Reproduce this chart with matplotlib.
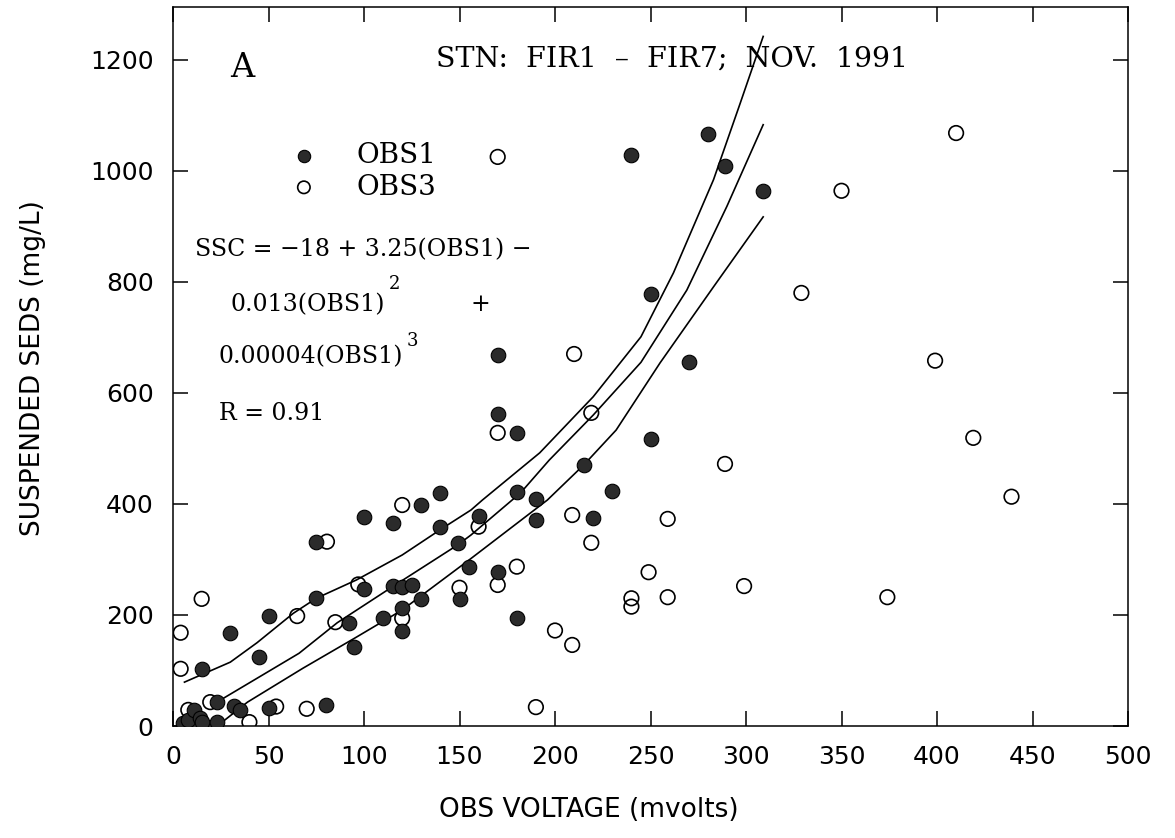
import matplotlib
matplotlib.use("Agg")
import matplotlib.pyplot as plt

# OBS1 readings (filled circles): OBS voltage (mvolts), SSC (mg/L)
obs1_x = [5, 8, 11, 14, 15, 23, 23, 32, 35, 50, 80,
          15, 30, 45, 50, 75, 75, 92, 95, 100, 100, 110, 115, 115, 120, 125,
          120, 120, 130, 130, 140, 140, 149, 150, 155, 160, 170, 170, 170,
          180, 180, 180, 190, 190, 215, 220, 230, 240, 250, 250, 270, 280,
          289, 309]
obs1_y = [5, 10, 28, 15, 8, 7, 43, 36, 29, 33, 38,
          103, 167, 124, 198, 230, 332, 186, 142, 376, 246, 195, 366, 252, 250, 254,
          212, 171, 398, 229, 420, 359, 329, 229, 287, 378, 668, 562, 277,
          528, 422, 194, 408, 371, 470, 375, 423, 1029, 778, 517, 656, 1066,
          1009, 964]

# OBS3 readings (open circles)
obs3_x = [4, 4, 8, 15, 19.5, 40, 54, 65, 70, 80.6, 85, 97, 120, 120, 150,
          160, 170, 170, 170, 180, 190, 200, 209, 210, 209, 219, 219, 240,
          240, 249, 259, 259, 289, 299, 329, 350, 374, 399, 410, 419, 439]
obs3_y = [168, 103, 29, 229, 43, 7, 35, 198, 31, 332, 187, 255, 398, 194, 249,
          359, 1025, 528, 254, 287, 34, 172, 146, 670, 380, 564, 330, 230,
          215, 277, 373, 232, 472, 252, 780, 964, 232, 658, 1068, 519, 413]

# fitted curve and its bands
upper_x = [6, 30, 44, 63, 75, 96, 120, 141, 156, 162, 192, 220, 245, 262, 283, 297, 309]
upper_y = [79, 115, 150, 203, 230, 263, 308, 356, 389, 407, 492, 593, 701, 816, 984, 1122, 1242]
mid_x = [20, 23, 45, 66, 86, 115, 149, 156, 182, 197, 220, 245, 269, 290, 309]
mid_y = [38, 43, 88, 131, 186, 251, 326, 344, 420, 479, 560, 655, 785, 936, 1083]
lower_x = [25, 39, 68, 96, 120, 155, 196, 215, 232, 255, 283, 309]
lower_y = [5, 43, 104, 160, 209, 299, 407, 470, 533, 654, 791, 917]

x_ticks = [0, 50, 100, 150, 200, 250, 300, 350, 400, 450, 500]
y_ticks = [0, 200, 400, 600, 800, 1000, 1200]

serif = 'DejaVu Serif'

fig = plt.figure(figsize=(11.75, 8.38), dpi=100)
ax = fig.add_axes([173 / 1175, 1 - 726 / 838, 955 / 1175, 719 / 838])

ax.plot(upper_x, upper_y, color='black', lw=1.2)
ax.plot(mid_x, mid_y, color='black', lw=1.2)
ax.plot(lower_x, lower_y, color='black', lw=1.2)

h3 = ax.scatter(obs3_x, obs3_y, s=110, facecolors='none', edgecolors='black',
                linewidths=1.2, label='OBS3', zorder=3)
h1 = ax.scatter(obs1_x, obs1_y, s=110, facecolors='#2b2b2b', edgecolors='black',
                linewidths=0.8, label='OBS1', zorder=4)

ax.set_xlim(0, 500)
ax.set_ylim(0, 1295)
ax.set_xticks(x_ticks)
ax.set_yticks(y_ticks)
ax.tick_params(direction='in', length=11, width=1.1, top=True, right=True,
               labelsize=18, pad=14)
for lab in ax.get_xticklabels() + ax.get_yticklabels():
    lab.set_fontfamily('DejaVu Sans')
for sp in ax.spines.values():
    sp.set_linewidth(1.1)

ax.set_xlabel('OBS VOLTAGE (mvolts)', fontsize=19)
ax.set_ylabel('SUSPENDED SEDS (mg/L)', fontsize=19)
ax.xaxis.set_label_coords((589 - 173) / 955, (726 - 797) / 719)
ax.yaxis.set_label_coords((46 - 173) / 955, 0.498)

ax.legend(handles=[h1, h3], loc='upper left', bbox_to_anchor=(0.1225, 0.812),
          frameon=False, borderpad=0, handlelength=1.0, handletextpad=1.4,
          labelspacing=0.16, markerscale=0.85, borderaxespad=0,
          prop={'family': serif, 'size': 20})

ax.text(0.060, 0.915, 'A', transform=ax.transAxes, family=serif, fontsize=24,
        ha='left', va='center')
ax.text(0.522, 0.928, 'STN:  FIR1  \u2013  FIR7;  NOV.  1991', transform=ax.transAxes,
        family=serif, fontsize=20.5, ha='center', va='center')

eq = dict(transform=ax.transAxes, family=serif, fontsize=17, ha='left', va='center')
ax.text(0.023, 0.662, 'SSC = \u221218 + 3.25(OBS1) \u2212', **eq)
ax.text(0.060, 0.586, '0.013(OBS1)', **eq)
ax.text(0.226, 0.615, '2', transform=ax.transAxes, family=serif, fontsize=13,
        ha='left', va='center')
ax.text(0.311, 0.586, '+', **eq)
ax.text(0.048, 0.513, '0.00004(OBS1)', **eq)
ax.text(0.245, 0.536, '3', transform=ax.transAxes, family=serif, fontsize=13,
        ha='left', va='center')
ax.text(0.048, 0.435, 'R = 0.91', **eq)

fig.savefig('out.png', dpi=100)
